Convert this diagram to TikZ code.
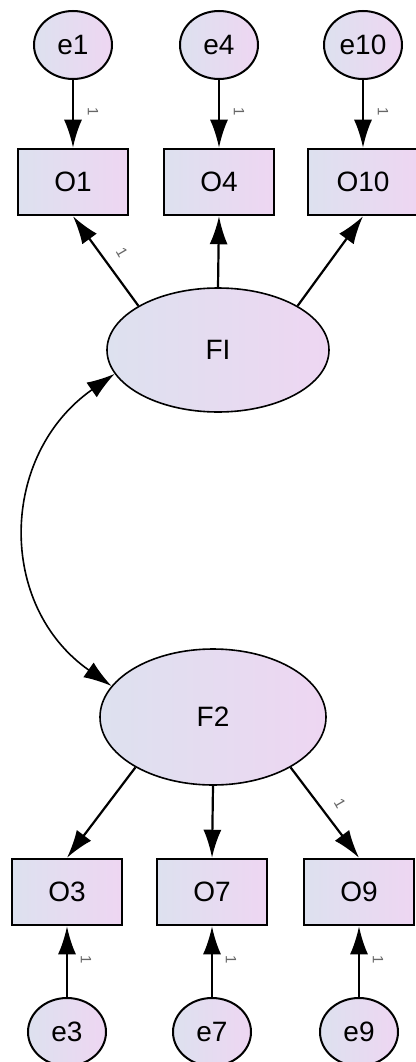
\documentclass[tikz,border=0pt]{standalone}
\usepackage{fontspec}
\setmainfont{Liberation Sans}
\usetikzlibrary{shapes.geometric,arrows.meta}
\definecolor{lowc}{HTML}{DDE1EF}
\definecolor{highc}{HTML}{EED6F2}

\begin{document}
\begin{tikzpicture}
            [x=1pt,y=1pt,
             fillc/.style={left color=lowc,right color=highc},
             err/.style={ellipse,draw,line width=2pt,fillc,minimum width=78pt,minimum height=68pt,inner sep=0pt,font=\fontsize{28}{30}\selectfont},
             obs/.style={rectangle,draw,line width=2.5pt,fillc,minimum width=110pt,minimum height=66pt,font=\fontsize{28}{30}\selectfont},
             lat/.style={ellipse,draw,line width=1.6pt,fillc,minimum width=222pt,minimum height=124pt,font=\fontsize{28}{30}\selectfont},
             reg/.style={-{Latex[length=28pt,width=18pt]},line width=2.2pt},
             cov/.style={{Latex[length=28pt,width=18pt]}-{Latex[length=28pt,width=18pt]},line width=1.6pt},
             one/.style={font=\fontsize{15}{15}\selectfont,text=black!60,inner sep=0pt}]
            \useasboundingbox (0,0) rectangle (415,-1062);
            % top factor
            \node[err](e1) at (73,-45){e1};
            \node[err](e4) at (219,-45){e4};
            \node[err](e10) at (363,-45){e10};
            \node[obs](O1) at (73,-182){O1};
            \node[obs](O4) at (219,-182){O4};
            \node[obs](O10) at (363,-182){O10};
            \node[lat](F1) at (218,-350){FI};
            % bottom factor
            \node[lat,minimum width=226pt,minimum height=136pt](F2) at (213,-717){F2};
            \node[obs](O3) at (67,-892){O3};
            \node[obs](O7) at (212,-892){O7};
            \node[obs](O9) at (359,-892){O9};
            \node[err](e3) at (67,-1032){e3};
            \node[err](e7) at (212,-1032){e7};
            \node[err](e9) at (359,-1032){e9};
            \path[reg](e1) edge node[one,pos=.47,xshift=20pt]{\rotatebox{-90}{1}}(O1)
                     (e4) edge node[one,pos=.47,xshift=20pt]{\rotatebox{-90}{1}}(O4)
                     (e10) edge node[one,pos=.47,xshift=20pt]{\rotatebox{-90}{1}}(O10)
                     (F1.151) edge node[one,pos=.59,xshift=22pt]{\rotatebox{-60}{1}}(O1.south)
                     (F1.north) edge (O4.south)
                     (F1.29) edge (O10.south)
                     (F2.213) edge (O3.north)
                     (F2.south) edge (O7.north)
                     (F2.-33) edge node[one,pos=.4,xshift=22pt]{\rotatebox{-60}{1}}(O9.north)
                     (e3) edge node[one,pos=.53,xshift=19pt]{\rotatebox{-90}{1}}(O3)
                     (e7) edge node[one,pos=.53,xshift=19pt]{\rotatebox{-90}{1}}(O7)
                     (e9) edge node[one,pos=.53,xshift=19pt]{\rotatebox{-90}{1}}(O9);
            \draw[cov](F1.193) to[out=215,in=145,looseness=1.15](F2.163);
        \end{tikzpicture}
\end{document}
